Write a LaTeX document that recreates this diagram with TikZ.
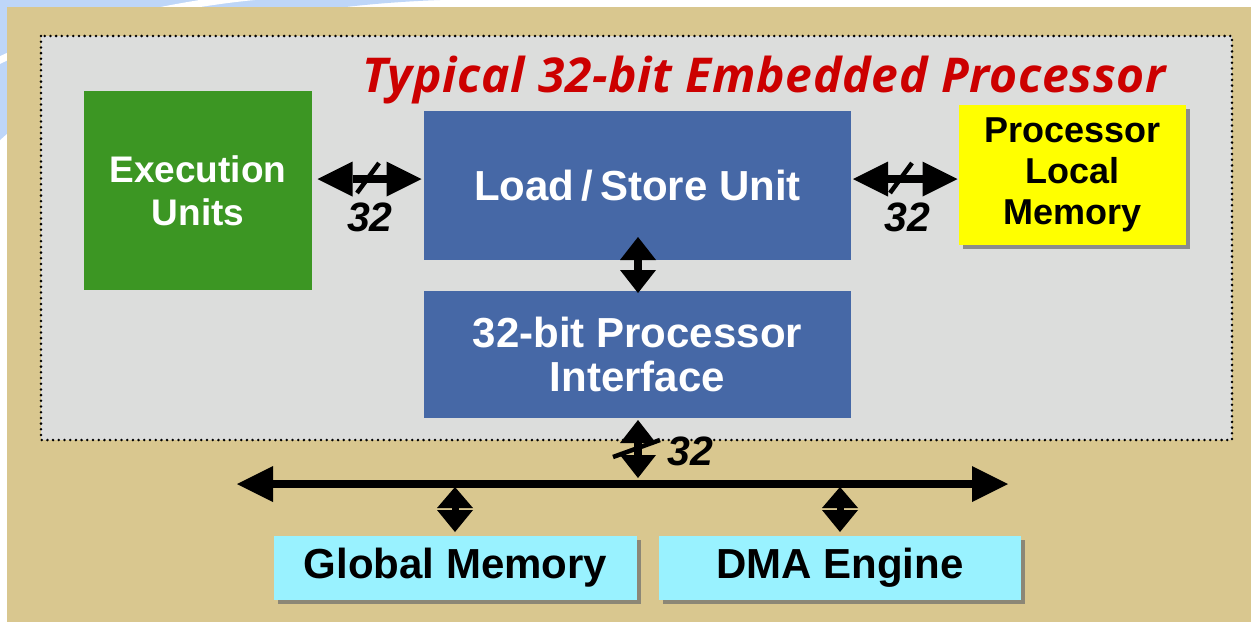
\documentclass[tikz,border=0pt]{standalone}
\usepackage{fontspec}
\setmainfont{Liberation Sans}
\newfontfamily\titlefont[LetterSpace=1.5]{Open Sans}
\usetikzlibrary{arrows.meta,calc,shadows}
\definecolor{tanbg}{RGB}{217,199,143}
\definecolor{panelgray}{RGB}{220,221,220}
\definecolor{execgreen}{RGB}{60,150,35}
\definecolor{lsublue}{RGB}{70,104,166}
\definecolor{plmyellow}{RGB}{255,255,0}
\definecolor{memcyan}{RGB}{153,242,255}
\definecolor{titlered}{RGB}{204,0,0}
\definecolor{swooshblue}{RGB}{190,214,248}
\definecolor{shadowA}{RGB}{140,140,140}
\definecolor{shadowB}{RGB}{140,135,118}
\begin{document}
\begin{tikzpicture}[x=1pt,y=-1pt,
  box/.style={rectangle,inner sep=0pt,outer sep=0pt,align=center,font=\bfseries},
  shad/.style={general shadow={fill=#1,shadow xshift=3.5pt,shadow yshift=-3.5pt}},
  dotborder/.style={line width=2.8pt,dash pattern=on 0pt off 5.7pt,line cap=round},
  harrow/.style={line width=8pt,
    {Triangle[length=35pt,width=35pt,line width=0pt]}-{Triangle[length=35pt,width=35pt,line width=0pt]}},
  varrow/.style={line width=8pt,
    {Triangle[length=23pt,width=36pt,line width=0pt]}-{Triangle[length=23pt,width=36pt,line width=0pt]}},
  sarrow/.style={line width=7pt,
    {Triangle[length=21pt,width=36pt,line width=0pt]}-{Triangle[length=22pt,width=36pt,line width=0pt]}},
  buswire/.style={line width=7.5pt,
    {Triangle[length=36pt,width=36pt,line width=0pt]}-{Triangle[length=36pt,width=36pt,line width=0pt]}},
  slash/.style={line width=4.5pt},
  buslabel/.style={inner sep=0pt,font=\fontsize{41}{41}\selectfont\bfseries\itshape}
]
\useasboundingbox (0,0) rectangle (1251,622);
\fill[white] (0,0) rectangle (1251,622);
% background swoosh
\fill[swooshblue] (0,0) -- (440,0) .. controls (280,6) and (110,40) .. (0,140) -- cycle;
\draw[white,line width=7pt] (260,-4) .. controls (170,4) and (60,30) .. (-4,62);
\fill[tanbg] (7,7) rectangle (1251,622);
% processor panel
\fill[panelgray] (41,36) rectangle (1232,440);
\draw[dotborder] (41,36) rectangle (1232,440);

\node[inner sep=0pt,anchor=base,text=titlered,font=\titlefont\fontsize{48}{48}\selectfont\bfseries\itshape]
  (title) at (764,92) {Typical 32-bit Embedded Processor};

% blocks
\node[box,fill=execgreen,text=white,minimum width=228pt,minimum height=199pt,
  font=\fontsize{37}{43}\selectfont\bfseries] (exec) at (198,190.5) {Execution\\Units};
\node[box,fill=lsublue,text=white,minimum width=427pt,minimum height=149pt,
  font=\fontsize{42}{44}\selectfont\bfseries] (lsu) at (637.5,185.5) {Load\,/\,Store Unit};
\node[box,fill=lsublue,text=white,minimum width=427pt,minimum height=127pt,
  font=\fontsize{42}{44}\selectfont\bfseries] (pi) at (637.5,354.5) {32-bit Processor\\Interface};
\node[box,shad=shadowA,fill=plmyellow,text=black,minimum width=227pt,minimum height=140pt,
  font=\fontsize{36}{41}\selectfont\bfseries] (plm) at (1072.5,175) {Processor\\Local\\Memory};
\node[box,shad=shadowB,fill=memcyan,text=black,minimum width=363pt,minimum height=64pt,
  font=\fontsize{42}{44}\selectfont\bfseries] (gm) at (455.5,568) {Global Memory};
\node[box,shad=shadowB,fill=memcyan,text=black,minimum width=362pt,minimum height=64pt,
  font=\fontsize{42}{44}\selectfont\bfseries] (dma) at (840,568) {DMA Engine};

% bus
\coordinate (busL) at (237,484);
\coordinate (busR) at (1008,484);
\draw[buswire] (busL) -- (busR);

% connectors
\draw[harrow,shorten <=5.5pt,shorten >=2.5pt] ([yshift=11.5pt]exec.east) -- ([yshift=6.5pt]lsu.west);
\draw[slash] (357,193) -- (379,163);
\node[buslabel] (l1) at (370,217) {32};

\draw[harrow,shorten <=2pt,shorten >=1.5pt] ([yshift=6.5pt]lsu.east) -- ([yshift=-4pt]plm.west);
\draw[slash] (890,193) -- (912,163);
\node[buslabel] (l2) at (907,217) {32};

\draw[varrow,shorten <=-23pt,shorten >=-2pt] ([xshift=0.5pt]lsu.south) -- ([xshift=0.5pt]pi.north);

\draw[varrow,shorten <=2pt,shorten >=6pt] ([xshift=0.5pt]pi.south) -- ([xshift=0.5pt]pi.south |- busL);
\draw[slash] (613,457) -- (660,440);
\node[buslabel] (l3) at (690,451) {32};

\draw[sarrow,shorten <=3pt,shorten >=4pt] ([xshift=-0.5pt]gm.north |- busL) -- ([xshift=-0.5pt]gm.north);
\draw[sarrow,shorten <=3pt,shorten >=4pt] (dma.north |- busL) -- (dma.north);
\end{tikzpicture}
\end{document}
